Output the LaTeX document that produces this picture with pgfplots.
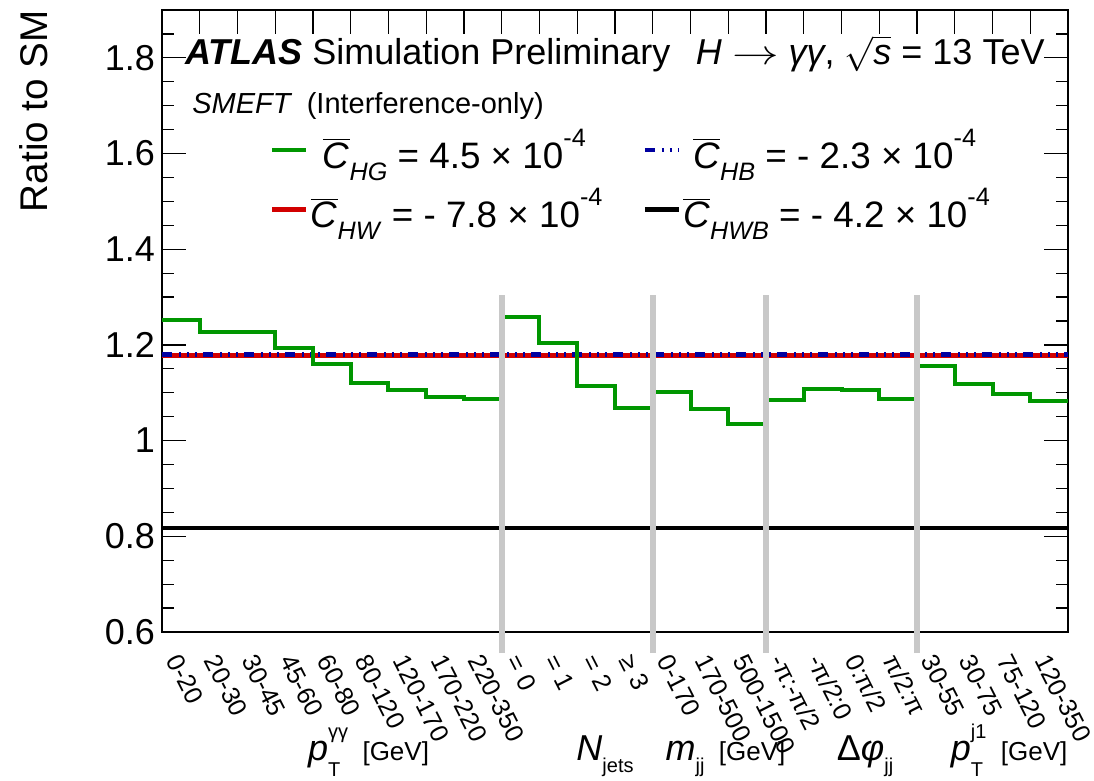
\documentclass[border=0pt]{standalone}
\usepackage{fontspec}
\setmainfont{Liberation Sans}
\usepackage{graphicx}
\usepackage{pgfplots}
\usepackage{pgfplotstable}
\pgfplotsset{compat=1.18}
\definecolor{cgreen}{RGB}{0,150,0}
\definecolor{cred}{RGB}{210,0,0}
\definecolor{cblue}{RGB}{0,0,160}
\definecolor{cgrey}{RGB}{200,200,200}
\newcommand\fs[1]{\fontsize{#1}{#1}\selectfont}
\newcommand\Cb{$\overline{\mbox{\textit{C}}}$}
\newcommand\sbs[1]{\raisebox{-0.32em}{\fs{12.6}\textit{#1}}}
\newcommand\sps[1]{\raisebox{0.6em}{\fs{12.6}#1}}
\pgfplotstableread{
x y
0 1.253
1 1.228
2 1.226
3 1.193
4 1.161
5 1.121
6 1.106
7 1.091
8 1.087
9 1.258
10 1.203
11 1.114
12 1.069
13 1.102
14 1.067
15 1.034
16 1.084
17 1.108
18 1.106
19 1.087
20 1.156
21 1.119
22 1.098
23 1.083
24 1.083
}\hgtab
\begin{document}
\begin{tikzpicture}
\begin{axis}[name=ax, scale only axis, width=453pt, height=311pt,
  xmin=0, xmax=24, ymin=0.6, ymax=1.9,
  xtick={0,...,24}, x tick label as interval,
  xticklabels={{0-20},{20-30},{30-45},{45-60},{60-80},{80-120},{120-170},{170-220},{220-350},
    {= 0},{= 1},{= 2},{≥ 3},{0-170},{170-500},{500-1500},
    {-π:-π/2},{-π/2:0},{0:π/2},{π/2:π},{30-55},{30-75},{75-120},{120-350}},
  xtick pos=right, xticklabel pos=left,
  ytick={0.6,0.8,1,1.2,1.4,1.6,1.8},
  minor ytick={0.65,0.7,0.75,0.85,0.9,0.95,1.05,1.1,1.15,1.25,1.3,1.35,1.45,1.5,1.55,1.65,1.7,1.75,1.85},
  major tick length=12pt, minor tick length=6pt,
  tick style={black, line width=0.6pt},
  axis line style={line width=0.8pt},
  clip=false,
  /pgf/number format/assume math mode=true,
  yticklabel style={font=\fs{18}},
  xticklabel style={font=\fs{12.7}, xshift=0.5pt, yshift=-10pt, rotate=-63, anchor=north west, inner sep=0pt},
  legend columns=2,
  legend cell align=left,
  legend style={draw=none, fill=none, at={(0.112,0.819)}, anchor=north west, font=\fs{18.4},
    nodes={inner sep=1pt},
    row sep=6.5pt,
    /tikz/every odd column/.append style={column sep=0pt},
    /tikz/every even column/.append style={column sep=19pt}},
  legend image code/.code={\draw[#1] (0pt,0pt) -- (17pt,0pt);},
]
\addlegendimage{cgreen, line width=2pt}
\addlegendentry{\hspace{6pt}\Cb\sbs{HG} = 4.5 × 10\sps{-4}}
\addlegendimage{cblue, line width=2.2pt, dash pattern=on 5pt off 3.5pt on 1pt off 3pt on 1pt off 3pt on 1pt off 3pt}
\addlegendentry{\hspace{5pt}\Cb\sbs{HB} = - 2.3 × 10\sps{-4}}
\addlegendimage{cred, line width=2.5pt}
\addlegendentry{\Cb\sbs{HW} = - 7.8 × 10\sps{-4}}
\addlegendimage{black, line width=2.5pt}
\addlegendentry{\Cb\sbs{HWB} = - 4.2 × 10\sps{-4}}

\addplot[cred, line width=2.5pt, forget plot] coordinates {(0,1.177) (24,1.177)};
\addplot[cblue, line width=2.2pt, dash pattern=on 5pt off 3.5pt on 1pt off 3pt on 1pt off 3pt on 1pt off 3pt, forget plot] coordinates {(0,1.180) (24,1.180)};
\addplot[black, line width=2pt, forget plot] coordinates {(0,0.817) (24,0.817)};
\addplot[cgreen, line width=2pt, const plot, forget plot] table[x=x,y=y] {\hgtab};
\addplot[cgrey, line width=3pt, forget plot] coordinates {(9,0.556) (9,1.304)};
\addplot[cgrey, line width=3pt, forget plot] coordinates {(13,0.556) (13,1.304)};
\addplot[cgrey, line width=3pt, forget plot] coordinates {(16,0.556) (16,1.304)};
\addplot[cgrey, line width=3pt, forget plot] coordinates {(20,0.556) (20,1.304)};

\node[anchor=base west, inner sep=0pt] at (rel axis cs:0.025,0.9116) {\fs{18}\textbf{\textit{ATLAS}} Simulation Preliminary};
\node[anchor=base east, inner sep=0pt] at (rel axis cs:0.9746,0.9116) {\fs{18}\textit{H} \scalebox{1.35}[1]{$\rightarrow$} \textit{γγ}, $\sqrt{\mbox{\textit{s}}}$ = 13 TeV};
\node[anchor=base west, inner sep=0pt] at (rel axis cs:0.033,0.834) {\fs{14.5}\textit{SMEFT}\hspace{0.5em}(Interference-only)};

\node[anchor=base, inner sep=0pt] at (rel axis cs:0.228,-0.206) {\fs{18}\textit{p}\rlap{\raisebox{-0.45em}{\fs{10}T}}\raisebox{0.6em}{\fs{10}γγ}\hspace{0.4em}{\fs{13}[GeV]}};
\node[anchor=base, inner sep=0pt] at (rel axis cs:0.489,-0.206) {\fs{18}\textit{N}\raisebox{-0.35em}{\fs{10}jets}};
\node[anchor=base, inner sep=0pt] at (rel axis cs:0.622,-0.206) {\fs{18}\textit{m}\raisebox{-0.35em}{\fs{10}jj}\hspace{0.4em}{\fs{13}[GeV]}};
\node[anchor=base, inner sep=0pt] at (rel axis cs:0.776,-0.206) {\fs{18}Δ\textit{φ}\raisebox{-0.35em}{\fs{10}jj}};
\node[anchor=base, inner sep=0pt] at (rel axis cs:0.935,-0.206) {\fs{18}\textit{p}\rlap{\raisebox{-0.45em}{\fs{10}T}}\raisebox{0.6em}{\fs{10}j1}\hspace{0.4em}{\fs{13}[GeV]}};
\end{axis}
\node[rotate=90, anchor=south east, inner sep=0pt] at ([xshift=-57pt]ax.north west) {\fs{19.3}Ratio to SM};
\pgfresetboundingbox
\path ([shift={(-81pt,-74.5pt)}]ax.south west) rectangle ([shift={(13pt,5pt)}]ax.north east);
\end{tikzpicture}
\end{document}
